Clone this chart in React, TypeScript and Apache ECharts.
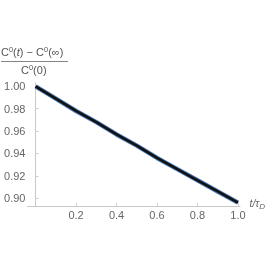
import React, { useEffect, useRef } from "react";
import * as echarts from "echarts";

const tValues = [0, 0.1, 0.2, 0.3, 0.4, 0.5, 0.6, 0.7, 0.8, 0.9, 1.0];
const cValues = [1.0, 0.989, 0.978, 0.968, 0.957, 0.947, 0.936, 0.926, 0.916, 0.906, 0.896];
const xTicks = [0.2, 0.4, 0.6, 0.8, 1.0];
const yTicks = [0.9, 0.92, 0.94, 0.96, 0.98, 1.0];

const FONT = "Liberation Sans, Arial, sans-serif";

export default function App() {
  const ref = useRef<HTMLDivElement>(null);
  useEffect(() => {
    if (!ref.current) return;
    const chart = echarts.init(ref.current, null, { renderer: "svg" });
    const data = tValues.map((t, i) => [t, cValues[i]]);
    chart.setOption({
      animation: false,
      grid: { left: 27.5, right: 22.2, top: 83, bottom: 60, containLabel: false },
      xAxis: {
        type: "value",
        min: -0.04,
        max: 1.01,
        splitLine: { show: false },
        axisLine: { show: true, onZero: false, lineStyle: { color: "#c8c8c8", width: 1 } },
        axisTick: { show: true, inside: true, length: 3, customValues: xTicks, lineStyle: { color: "#d0d0d0" } },
        axisLabel: {
          customValues: xTicks,
          formatter: (v: number) => v.toFixed(1),
          color: "#666",
          fontFamily: FONT,
          fontSize: 11,
          margin: 3,
        },
        name: "{a|t/τ}{b|D}",
        nameLocation: "end",
        nameGap: 4,
        nameTextStyle: {
          padding: [0, 0, 6, 0],
          rich: {
            a: { fontFamily: FONT, fontSize: 10.5, fontStyle: "italic", color: "#666" },
            b: { fontFamily: FONT, fontSize: 8, fontStyle: "italic", color: "#666", padding: [6, 0, 0, 0] },
          },
        },
      },
      yAxis: {
        type: "value",
        min: 0.893,
        max: 1.003,
        splitLine: { show: false },
        axisLine: { show: true, onZero: true, lineStyle: { color: "#c8c8c8", width: 1 } },
        axisTick: { show: true, inside: true, length: 3, customValues: yTicks, lineStyle: { color: "#d0d0d0" } },
        axisLabel: {
          customValues: yTicks,
          formatter: (v: number) => v.toFixed(2),
          color: "#666",
          fontFamily: FONT,
          fontSize: 11,
          margin: 2,
        },
      },
      graphic: [
        {
          type: "text",
          left: 1,
          top: 45,
          style: {
            text: "{n|C}{s|0}{n|(}{i|t}{n|) − C}{s|0}{n|(∞)}",
            rich: {
              n: { fontFamily: FONT, fontSize: 11, fill: "#555" },
              i: { fontFamily: FONT, fontSize: 11, fontStyle: "italic", fill: "#555" },
              s: { fontFamily: FONT, fontSize: 7.5, fill: "#555", padding: [0, 0, 6, 0] },
            },
          },
        },
        {
          type: "line",
          shape: { x1: 1, y1: 61.5, x2: 68, y2: 61.5 },
          style: { stroke: "#666", lineWidth: 0.8 },
        },
        {
          type: "text",
          left: 21,
          top: 63,
          style: {
            text: "{n|C}{s|0}{n|(0)}",
            rich: {
              n: { fontFamily: FONT, fontSize: 11, fill: "#555" },
              s: { fontFamily: FONT, fontSize: 7.5, fill: "#555", padding: [0, 0, 6, 0] },
            },
          },
        },
      ],
      series: [
        {
          type: "line",
          data,
          showSymbol: false,
          lineStyle: { color: "#4a78b5", width: 4.5 },
          z: 2,
        },
        {
          type: "line",
          data,
          showSymbol: false,
          lineStyle: { color: "#111", width: 2.6 },
          z: 3,
        },
      ],
    });
    return () => chart.dispose();
  }, []);
  return (
    <div
      ref={ref}
      style={{ position: "fixed", left: 0, top: 0, width: 266, height: 266 }}
    />
  );
}
